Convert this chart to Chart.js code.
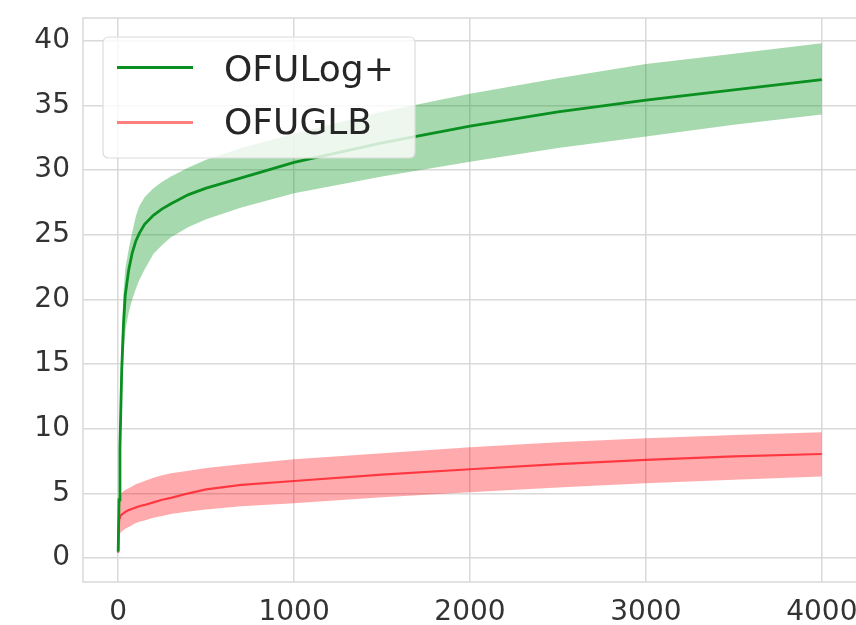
<!DOCTYPE html>
<html><head><meta charset="utf-8">
<script src="https://cdn.jsdelivr.net/npm/chart.js@4.4.0/dist/chart.umd.min.js"></script>
<style>
html,body{margin:0;padding:0;background:#fff;overflow:hidden;width:856px;height:625px}
#wrap{width:858px;height:625px;position:relative}
</style></head>
<body><div id="wrap"><canvas id="c" width="858" height="625"></canvas></div>
<script>
// ---- data ----
const steps = [0, 5, 10, 20, 30, 40, 60, 80, 100, 120, 150, 200, 250, 300, 400, 500, 700, 1000, 1500, 2000, 2500, 3000, 3500, 4000];

const ofulogMean  = [0.5, 4.5, 8.5, 14.5, 18.0, 20.3, 22.3, 23.6, 24.5, 25.1, 25.8, 26.5, 27.0, 27.4, 28.1, 28.6, 29.4, 30.6, 32.1, 33.4, 34.5, 35.4, 36.2, 37.0];
const ofulogUpper = [0.6, 5.5, 10.5, 17.0, 20.5, 22.3, 23.9, 25.2, 26.4, 27.2, 27.9, 28.6, 29.1, 29.5, 30.2, 30.8, 31.7, 32.8, 34.5, 35.9, 37.1, 38.2, 39.0, 39.8];
const ofulogLower = [0.4, 3.8, 7.0, 12.0, 15.5, 17.5, 19.0, 20.0, 20.8, 21.5, 22.3, 23.5, 24.2, 24.8, 25.6, 26.2, 27.1, 28.2, 29.5, 30.65, 31.7, 32.6, 33.5, 34.3];

const ofuglbMean  = [0.4, 3.1, 3.2, 3.35, 3.45, 3.55, 3.7, 3.8, 3.9, 4.0, 4.1, 4.3, 4.5, 4.65, 5.0, 5.3, 5.65, 5.95, 6.45, 6.86, 7.25, 7.58, 7.85, 8.04];
const ofuglbUpper = [0.5, 4.8, 4.95, 5.05, 5.15, 5.25, 5.4, 5.55, 5.7, 5.8, 5.95, 6.2, 6.4, 6.55, 6.75, 6.95, 7.25, 7.63, 8.1, 8.56, 8.95, 9.26, 9.5, 9.72];
const ofuglbLower = [0.3, 1.8, 1.9, 2.05, 2.15, 2.25, 2.4, 2.55, 2.7, 2.8, 2.9, 3.1, 3.25, 3.4, 3.6, 3.75, 4.0, 4.23, 4.7, 5.08, 5.45, 5.78, 6.05, 6.3];

const xTicks = [0, 1000, 2000, 3000, 4000];
const yTicks = [0, 5, 10, 15, 20, 25, 30, 35, 40];
const seriesLabels = ['OFULog+', 'OFUGLB'];

// ---- build ----
const pts = arr => arr.map((v, i) => ({x: steps[i], y: v}));
const GREEN = '#0a9020';
const GREEN_FILL = 'rgba(0,145,20,0.35)';
const RED_LINE = 'rgba(255,0,15,0.68)';
const RED_LEGEND = 'rgba(255,0,0,0.5)';
const RED_FILL = 'rgba(255,0,10,0.33)';
const GRID = '#d9d9d9';
const FONT = "'DejaVu Sans', sans-serif";

const frame = {
  id: 'frame',
  beforeDatasetsDraw(chart) {
    const a = chart.chartArea, ctx = chart.ctx;
    ctx.save();
    ctx.strokeStyle = GRID;
    ctx.lineWidth = 1.5;
    ctx.strokeRect(a.left, a.top, a.right - a.left, a.bottom - a.top);
    ctx.restore();
  }
};

const boxLegend = {
  id: 'boxLegend',
  afterDatasetsDraw(chart) {
    const ctx = chart.ctx;
    const items = chart.data.datasets.filter(d => d.legendColor);
    ctx.save();
    const x0 = 103, y0 = 37, w = 312, h = 121, r = 6;
    ctx.beginPath();
    ctx.moveTo(x0 + r, y0);
    ctx.lineTo(x0 + w - r, y0); ctx.quadraticCurveTo(x0 + w, y0, x0 + w, y0 + r);
    ctx.lineTo(x0 + w, y0 + h - r); ctx.quadraticCurveTo(x0 + w, y0 + h, x0 + w - r, y0 + h);
    ctx.lineTo(x0 + r, y0 + h); ctx.quadraticCurveTo(x0, y0 + h, x0, y0 + h - r);
    ctx.lineTo(x0, y0 + r); ctx.quadraticCurveTo(x0, y0, x0 + r, y0);
    ctx.closePath();
    ctx.fillStyle = 'rgba(255,255,255,0.8)';
    ctx.fill();
    ctx.strokeStyle = '#dcdcdc';
    ctx.lineWidth = 1.2;
    ctx.stroke();
    const lineYs = [67.5, 122.5];
    const baseYs = [80.5, 133.5];
    items.forEach((d, i) => {
      ctx.beginPath();
      ctx.moveTo(117, lineYs[i]);
      ctx.lineTo(193, lineYs[i]);
      ctx.strokeStyle = d.legendColor;
      ctx.lineWidth = 3;
      ctx.stroke();
      ctx.fillStyle = '#262626';
      ctx.font = '36px ' + FONT;
      ctx.textBaseline = 'alphabetic';
      ctx.textAlign = 'left';
      ctx.fillText(d.label, 224, baseYs[i]);
    });
    ctx.restore();
  }
};

const zeroPad = s => { s.paddingLeft = 0; s.paddingRight = 0; s.paddingTop = 0; s.paddingBottom = 0; };

new Chart(document.getElementById('c'), {
  type: 'line',
  data: {
    datasets: [
      {label: seriesLabels[0], legendColor: GREEN, data: pts(ofulogMean), borderColor: GREEN, borderWidth: 2.8, pointRadius: 0, fill: false, tension: 0},
      {label: seriesLabels[1], legendColor: RED_LEGEND, data: pts(ofuglbMean), borderColor: RED_LINE, borderWidth: 2.2, pointRadius: 0, fill: false, tension: 0},
      {label: '', data: pts(ofulogUpper), borderWidth: 0, borderColor: 'rgba(0,0,0,0)', pointRadius: 0, backgroundColor: GREEN_FILL, fill: '+1', tension: 0},
      {label: '', data: pts(ofulogLower), borderWidth: 0, borderColor: 'rgba(0,0,0,0)', pointRadius: 0, fill: false, tension: 0},
      {label: '', data: pts(ofuglbUpper), borderWidth: 0, borderColor: 'rgba(0,0,0,0)', pointRadius: 0, backgroundColor: RED_FILL, fill: '+1', tension: 0},
      {label: '', data: pts(ofuglbLower), borderWidth: 0, borderColor: 'rgba(0,0,0,0)', pointRadius: 0, fill: false, tension: 0}
    ]
  },
  options: {
    responsive: false,
    devicePixelRatio: 1,
    animation: false,
    events: [],
    layout: {autoPadding: false, padding: {top: 18, right: 1, left: 0, bottom: 0}},
    plugins: {legend: {display: false}, tooltip: {enabled: false}},
    scales: {
      x: {
        type: 'linear', min: -200, max: 4200,
        afterBuildTicks: s => { s.ticks = xTicks.map(v => ({value: v})); },
        afterFit: s => { s.height = 43; zeroPad(s); },
        grid: {color: GRID, lineWidth: 1.5, drawTicks: false},
        border: {display: false},
        ticks: {font: {family: FONT, size: 28}, color: '#333', padding: 14, maxRotation: 0, autoSkip: false, callback: v => String(v)}
      },
      y: {
        type: 'linear', min: -1.86, max: 41.76,
        afterBuildTicks: s => { s.ticks = yTicks.map(v => ({value: v})); },
        afterFit: s => { s.width = 83; zeroPad(s); },
        grid: {color: GRID, lineWidth: 1.5, drawTicks: false},
        border: {display: false},
        ticks: {font: {family: FONT, size: 28}, color: '#333', padding: 13, autoSkip: false, callback: v => String(v)}
      }
    }
  },
  plugins: [frame, boxLegend]
});
</script>
</body></html>
